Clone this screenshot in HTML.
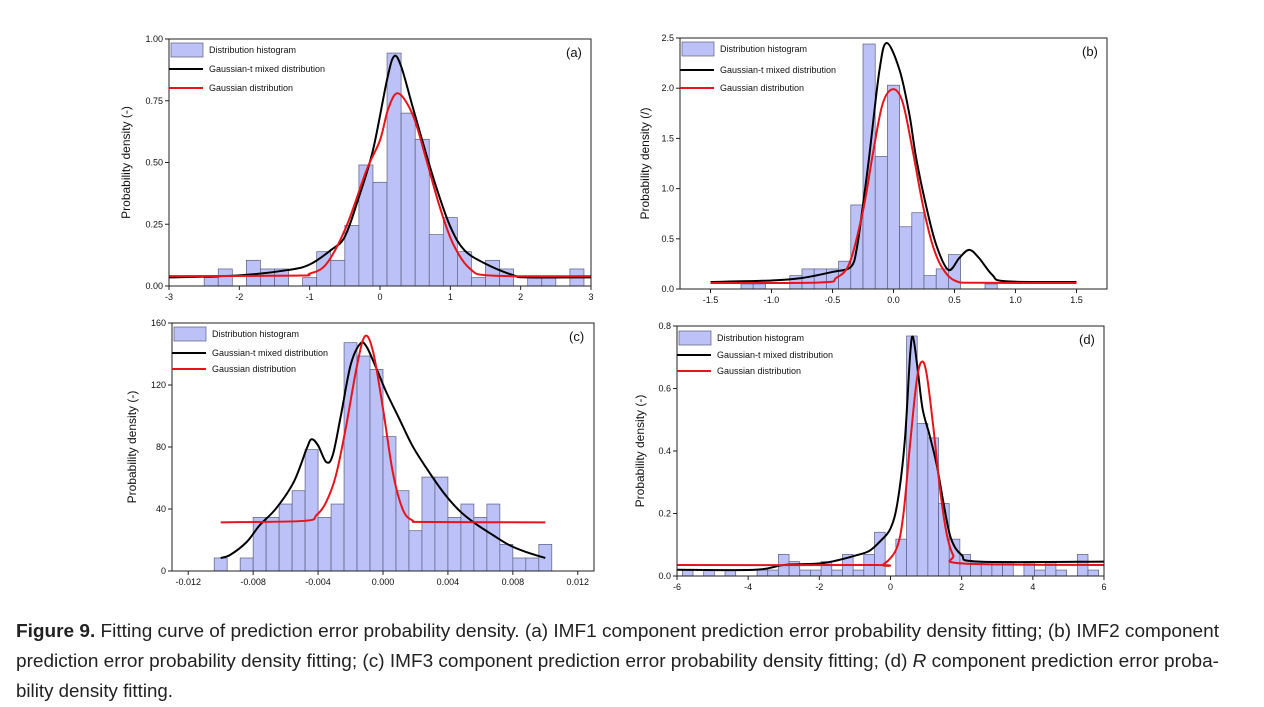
<!DOCTYPE html>
<html><head><meta charset="utf-8"><style>
html,body{margin:0;padding:0;background:#fff;}
svg{display:block;font-family:"Liberation Sans",Arial,sans-serif;}
</style></head><body>
<svg id="fig" width="1264" height="707" viewBox="0 0 1264 707" xmlns="http://www.w3.org/2000/svg">
<g id="panels"></g>
<g fill="#222" font-size="18">
<text x="16" y="637" textLength="1203" lengthAdjust="spacingAndGlyphs"><tspan font-weight="bold">Figure 9.</tspan> Fitting curve of prediction error probability density. (a) IMF1 component prediction error probability density fitting; (b) IMF2 component</text>
<text x="16" y="667" textLength="1203" lengthAdjust="spacingAndGlyphs">prediction error probability density fitting; (c) IMF3 component prediction error probability density fitting; (d) <tspan font-style="italic">R</tspan> component prediction error proba-</text>
<text x="16" y="697" textLength="157" lengthAdjust="spacingAndGlyphs">bility density fitting.</text>
</g>
</svg>
<script>
// ---- Panel (a) data ----
const aBinStart = -2.5, aBinWidth = 0.2;
const aHist = [0.034,0.069,0,0.104,0.069,0.069,0,0.034,0.139,0.104,0.245,0.49,0.42,0.943,0.70,0.594,0.208,0.277,0.139,0.034,0.104,0.069,0,0.034,0.034,0,0.069];
const aMixX = [-3,-2,-1.3,-1,-0.7,-0.5,-0.3,-0.1,0.1,0.2,0.3,0.45,0.6,0.8,1.0,1.2,1.5,1.9,2.1,3];
const aMixY = [0.035,0.043,0.065,0.087,0.145,0.2,0.36,0.55,0.835,0.93,0.89,0.74,0.59,0.4,0.24,0.145,0.09,0.043,0.035,0.035];
const aGauX = [-3,-1.2,-1.0,-0.76,-0.48,-0.19,0,0.12,0.26,0.47,0.66,0.85,1.04,1.28,1.6,3];
const aGauY = [0.04,0.042,0.05,0.09,0.24,0.47,0.59,0.72,0.78,0.69,0.51,0.32,0.17,0.07,0.042,0.04];
const aXTicks = [-3,-2,-1,0,1,2,3];
const aXLabels = ["-3","-2","-1","0","1","2","3"];
const aYTicks = [0,0.25,0.5,0.75,1.0];
const aYLabels = ["0.00","0.25","0.50","0.75","1.00"];
// ---- Panel (b) data ----
const bBinStart = -1.25, bBinWidth = 0.1;
const bHist = [0.05,0.05,0,0,0.133,0.2,0.2,0.2,0.277,0.837,2.44,1.32,2.03,0.62,0.76,0.133,0.2,0.343,0,0,0.05];
const bMixX = [-1.5,-1.0,-0.75,-0.5,-0.35,-0.3,-0.25,-0.2,-0.115,-0.055,0.05,0.13,0.185,0.265,0.35,0.45,0.54,0.62,0.7,0.81,0.92,1.5];
const bMixY = [0.07,0.085,0.11,0.17,0.22,0.41,0.84,1.31,2.18,2.45,2.18,1.74,1.31,0.84,0.44,0.19,0.31,0.39,0.31,0.14,0.077,0.07];
const bGauX = [-1.5,-0.6,-0.47,-0.36,-0.25,-0.17,-0.09,-0.005,0.075,0.157,0.24,0.32,0.4,0.51,0.7,1.5];
const bGauY = [0.06,0.065,0.11,0.26,0.78,1.34,1.84,1.99,1.86,1.38,0.84,0.44,0.21,0.08,0.062,0.06];
const bXTicks = [-1.5,-1.0,-0.5,0,0.5,1.0,1.5];
const bXLabels = ["-1.5","-1.0","-0.5","0.0","0.5","1.0","1.5"];
const bYTicks = [0,0.5,1.0,1.5,2.0,2.5];
const bYLabels = ["0.0","0.5","1.0","1.5","2.0","2.5"];
// ---- Panel (c) data ----
const cBinStart = -0.0104, cBinWidth = 0.0008;
const cHist = [8.4,0,8.4,34.6,34.6,43.2,51.8,78.3,34.6,43.2,147.3,138.7,130.1,86.7,51.8,26,60.6,60.6,34.6,43.2,34.6,43.2,17.2,8.4,8.4,17.2];
const cMixX = [-0.01,-0.0094,-0.0084,-0.0076,-0.0066,-0.0055,-0.0047,-0.0044,-0.004,-0.0035,-0.0031,-0.0026,-0.002,-0.0014,-0.001,-0.0004,0.0002,0.001,0.0018,0.0027,0.0037,0.0047,0.0057,0.0068,0.0078,0.0088,0.01];
const cMixY = [8.4,10.5,18.7,29.5,40.2,57.4,79,85,81,70.3,74.6,100,132.7,146.7,144.5,130.5,115.5,98.3,81,66,51,39,30.5,23,16.6,12.3,8.4];
const cGauX = [-0.01,-0.0049,-0.0041,-0.0035,-0.0029,-0.0023,-0.0016,-0.0011,-0.0006,0,0.0006,0.0012,0.0018,0.0027,0.01];
const cGauY = [31.4,32.3,36,44.5,61.7,91.8,132.7,151.6,141,104.7,63.9,40.2,32.7,31.6,31.4];
const cXTicks = [-0.012,-0.008,-0.004,0,0.004,0.008,0.012];
const cXLabels = ["-0.012","-0.008","-0.004","0.000","0.004","0.008","0.012"];
const cYTicks = [0,40,80,120,160];
const cYLabels = ["0","40","80","120","160"];
// ---- Panel (d) data ----
const dBinStart = -5.85, dBinWidth = 0.3;
const dHist = [0.019,0,0.019,0,0.019,0,0,0.019,0.019,0.069,0.046,0.019,0.019,0.046,0.019,0.069,0.019,0.069,0.14,0,0.118,0.768,0.488,0.442,0.232,0.118,0.069,0.046,0.046,0.046,0.046,0,0.046,0.019,0.046,0.019,0,0.069,0.019];
const dMixX = [-6,-3.8,-3,-2,-1.5,-1,-0.6,-0.3,0,0.2,0.4,0.55,0.63,0.75,0.9,1.1,1.3,1.5,1.7,2.0,2.5,6];
const dMixY = [0.02,0.02,0.035,0.04,0.05,0.065,0.08,0.11,0.152,0.238,0.43,0.706,0.765,0.674,0.536,0.45,0.355,0.227,0.12,0.067,0.046,0.046];
const dGauX = [-6,-0.5,-0.2,0.17,0.36,0.54,0.73,0.87,1.01,1.2,1.39,1.57,1.76,2.04,6];
const dGauY = [0.035,0.035,0.037,0.088,0.195,0.41,0.62,0.685,0.65,0.48,0.28,0.14,0.067,0.04,0.035];
const dXTicks = [-6,-4,-2,0,2,4,6];
const dXLabels = ["-6","-4","-2","0","2","4","6"];
const dYTicks = [0,0.2,0.4,0.6,0.8];
const dYLabels = ["0.0","0.2","0.4","0.6","0.8"];

const NS = "http://www.w3.org/2000/svg";
const root = document.getElementById("panels");
function mk(tag, attrs, parent) {
  const e = document.createElementNS(NS, tag);
  for (const k in attrs) e.setAttribute(k, attrs[k]);
  parent.appendChild(e);
  return e;
}
function smooth(pts) {
  let d = "M" + pts[0][0].toFixed(2) + "," + pts[0][1].toFixed(2);
  for (let i = 0; i < pts.length - 1; i++) {
    const p0 = pts[Math.max(0, i - 1)], p1 = pts[i], p2 = pts[i + 1], p3 = pts[Math.min(pts.length - 1, i + 2)];
    const c1x = p1[0] + (p2[0] - p0[0]) / 6, c1y = p1[1] + (p2[1] - p0[1]) / 6;
    const c2x = p2[0] - (p3[0] - p1[0]) / 6, c2y = p2[1] - (p3[1] - p1[1]) / 6;
    d += "C" + c1x.toFixed(2) + "," + c1y.toFixed(2) + " " + c2x.toFixed(2) + "," + c2y.toFixed(2) + " " + p2[0].toFixed(2) + "," + p2[1].toFixed(2);
  }
  return d;
}
function panel(id, L, R, T, B, x0, x1, y0, y1, binStart, binW, hist, mixX, mixY, gauX, gauY, xt, xl, yt, yl, ytitle, titleX, leg) {
  const g = mk("g", {}, root);
  
  
  const sx = v => L + (v - x0) / (x1 - x0) * (R - L);
  const sy = v => B - (v - y0) / (y1 - y0) * (B - T);
  const clip = mk("clipPath", {id: "clip-" + id}, g);
  mk("rect", {x: L, y: T, width: R - L, height: B - T}, clip);
  const bars = mk("g", {"clip-path": "url(#clip-" + id + ")"}, g);
  
  
  hist.forEach((h, i) => {
    if (h <= 0) return;
    const a = binStart + i * binW, b = a + binW;
    const r = mk("rect", {x: sx(a), y: sy(h), width: sx(b) - sx(a), height: sy(0) - sy(h), fill: "#bcc2f7", stroke: "#5a5f80", "stroke-width": 0.7}, bars);
    
    
  });
  const mp = mk("path", {d: smooth(mixX.map((x, i) => [sx(x), sy(mixY[i])])), fill: "none", stroke: "#000", "stroke-width": 2}, g);
  
  
  const gp = mk("path", {d: smooth(gauX.map((x, i) => [sx(x), sy(gauY[i])])), fill: "none", stroke: "#e8141b", "stroke-width": 2}, g);
  
  
  const fr = mk("rect", {x: L, y: T, width: R - L, height: B - T, fill: "none", stroke: "#222", "stroke-width": 1}, g);
  
  
  xt.forEach((v, i) => {
    mk("line", {x1: sx(v), x2: sx(v), y1: B, y2: B + 4, stroke: "#222"}, g);
    const t = mk("text", {x: sx(v), y: B + 14, "font-size": 9, "text-anchor": "middle", fill: "#111"}, g);
    t.textContent = xl[i];
    
    
  });
  yt.forEach((v, i) => {
    mk("line", {x1: L - 4, x2: L, y1: sy(v), y2: sy(v), stroke: "#222"}, g);
    const t = mk("text", {x: L - 6, y: sy(v) + 3, "font-size": 9, "text-anchor": "end", fill: "#111"}, g);
    t.textContent = yl[i];
    
    
  });
  const cy = (T + B) / 2;
  const yt2 = mk("text", {x: titleX, y: cy, "font-size": 12, "text-anchor": "middle", transform: "rotate(-90 " + titleX + " " + cy + ")", fill: "#111"}, g);
  yt2.textContent = ytitle;
  
  
  const pl = mk("text", {x: R - 25, y: T + 18, "font-size": 13, fill: "#111"}, g);
  pl.textContent = "(" + id + ")";
  
  
  const lg = mk("g", {}, g);
  
  
  mk("rect", {x: L + 2, y: leg[0], width: 32, height: 14, fill: "#bcc2f7", stroke: "#5a5f80", "stroke-width": 0.7}, lg);
  mk("line", {x1: L, x2: L + 34, y1: leg[1], y2: leg[1], stroke: "#000", "stroke-width": 2}, lg);
  mk("line", {x1: L, x2: L + 34, y1: leg[2], y2: leg[2], stroke: "#e8141b", "stroke-width": 2}, lg);
  const names = ["Distribution histogram", "Gaussian-t mixed distribution", "Gaussian distribution"];
  const ys = [leg[0] + 10, leg[1] + 3, leg[2] + 3];
  names.forEach((n, i) => {
    const t = mk("text", {x: L + 40, y: ys[i], "font-size": 9, fill: "#111"}, lg);
    t.textContent = n;
    
    
  });
}
panel("a", 169, 591, 39, 286, -3, 3, 0, 1, aBinStart, aBinWidth, aHist, aMixX, aMixY, aGauX, aGauY, aXTicks, aXLabels, aYTicks, aYLabels, "Probability density (-)", 130, [43, 69, 88]);
panel("b", 680, 1107, 38, 289, -1.75, 1.75, 0, 2.5, bBinStart, bBinWidth, bHist, bMixX, bMixY, bGauX, bGauY, bXTicks, bXLabels, bYTicks, bYLabels, "Probability density (/)", 649, [42, 70, 88]);
panel("c", 172, 594, 323, 571, -0.013, 0.013, 0, 160, cBinStart, cBinWidth, cHist, cMixX, cMixY, cGauX, cGauY, cXTicks, cXLabels, cYTicks, cYLabels, "Probability density (-)", 136, [327, 353, 369]);
panel("d", 677, 1104, 326, 576, -6, 6, 0, 0.8, dBinStart, dBinWidth, dHist, dMixX, dMixY, dGauX, dGauY, dXTicks, dXLabels, dYTicks, dYLabels, "Probability density (-)", 644, [331, 355, 371]);
</script>
</body></html>
